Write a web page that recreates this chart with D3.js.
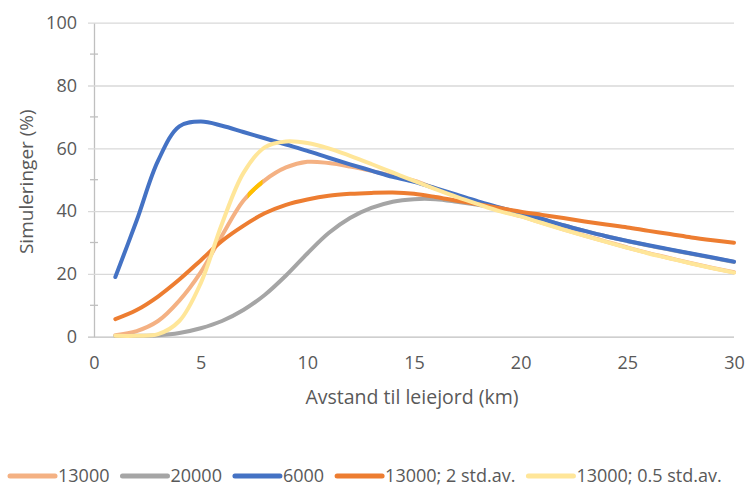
<!DOCTYPE html>
<html>
<head>
<meta charset="utf-8">
<script src="https://cdn.jsdelivr.net/npm/d3@7"></script>
<style>
  body { margin: 0; background: #fff; }
  text { font-family: "Open Sans", sans-serif; fill: #595959; }
</style>
</head>
<body>
<svg id="chart" width="748" height="486"></svg>
<script>
// distance to leased land (km)
const distances = [1, 2, 3, 4, 5, 6, 7, 8, 9, 10, 11, 12, 13, 14, 15,
  16, 17, 18, 19, 20, 21, 22, 23, 24, 25, 26, 27, 28, 29, 30];

// share of simulations (%) per scenario
const sim13000 = [0.5, 1.8, 5, 11.5, 20.5, 32.2, 43.3, 49.8, 53.9, 55.7, 55.3, 54.2, 52.8, 51.2,
  49.7, 47.2, 44.7, 42.4, 40.2, 38.4, 36.3, 34.2, 32.2, 30.3, 28.4, 26.6, 25, 23.4, 21.9, 20.5];
const sim20000 = [0.2, 0.3, 0.5, 1.2, 2.7, 5, 8.5, 13.3, 19.5, 26.5, 33, 37.8, 41, 43, 43.8,
  43.8, 43, 42, 40.8, 39.5, 37.5, 35.5, 33.7, 32, 30.5, 29, 27.7, 26.4, 25.1, 23.8];
const sim6000 = [19, 37, 56, 67, 68.5, 67.2, 65.2, 63.2, 61.2, 59.2, 57, 54.9, 52.9, 50.9, 49.3,
  47.3, 45.2, 43.1, 41.2, 39.3, 37.5, 35.5, 33.7, 32, 30.5, 29.1, 27.8, 26.5, 25.2, 23.9];
const sim13000sd2 = [5.6, 8.5, 12.8, 18.2, 24.3, 30.5, 35.3, 39.3, 42, 43.7, 44.9, 45.5, 45.8,
  45.9, 45.5, 44.5, 43.3, 42.2, 41, 39.8, 38.8, 37.8, 36.7, 35.7, 34.8, 33.7, 32.7, 31.6, 30.7, 29.9];
const sim13000sd05 = [0.3, 0.3, 0.8, 5, 17, 36, 52.1, 60.3, 62.2, 61.7, 60, 57.6, 55, 52.3, 49.6,
  47, 44.5, 42.2, 40, 38.3, 36.2, 34.1, 32.1, 30.2, 28.3, 26.5, 24.9, 23.3, 21.8, 20.4];

const seriesNames = ['13000', '20000', '6000', '13000; 2 std.av.', '13000; 0.5 std.av.'];
const seriesValues = [sim13000, sim20000, sim6000, sim13000sd2, sim13000sd05];
const seriesColors = ['#F4B183', '#A5A5A5', '#4472C4', '#ED7D31', '#FFE699'];

const xTicks = [0, 5, 10, 15, 20, 25, 30];
const yTicks = [0, 20, 40, 60, 80, 100];
const yMinorTicks = [10, 30, 50, 70, 90];
// short stretch of the 13000 line drawn in a stronger yellow in the original
const highlightRange = [7.2, 7.9];

const width = 748, height = 486;
const plot = { left: 94, right: 734, top: 22.7, bottom: 336.7 };

const svg = d3.select('#chart');

const x = d3.scaleLinear().domain([0, 30]).range([plot.left, plot.right]);
const y = d3.scaleLinear().domain([0, 100]).range([plot.bottom, plot.top]);

// y axis with gridlines
const yAxis = svg.append('g')
  .attr('transform', `translate(${plot.left},0)`)
  .call(d3.axisLeft(y).tickValues(yTicks).tickSize(6).tickPadding(11).tickSizeOuter(0));
yAxis.select('.domain').attr('stroke', '#bfbfbf').attr('stroke-width', 1.3);
yAxis.selectAll('.tick line')
  .attr('x1', -6)
  .attr('x2', plot.right - plot.left)
  .attr('stroke', (d) => (d === 0 ? '#bfbfbf' : '#d9d9d9'))
  .attr('stroke-width', 1.3);
yAxis.selectAll('.tick text').style('font-size', '18px');

// minor ticks
yAxis.selectAll('.minor')
  .data(yMinorTicks)
  .join('line')
  .attr('class', 'minor')
  .attr('x1', -4)
  .attr('x2', 4)
  .attr('y1', (d) => y(d))
  .attr('y2', (d) => y(d))
  .attr('stroke', '#bfbfbf')
  .attr('stroke-width', 1.3);

// x axis labels only, the line comes from the y=0 gridline
const xAxis = svg.append('g')
  .attr('transform', `translate(0,${plot.bottom})`)
  .call(d3.axisBottom(x).tickValues(xTicks).tickSize(0).tickPadding(20));
xAxis.select('.domain').remove();
xAxis.selectAll('.tick text').style('font-size', '18px');

// axis titles
svg.append('text')
  .attr('x', (plot.left + plot.right) / 2 - 2)
  .attr('y', 404)
  .attr('text-anchor', 'middle')
  .style('font-size', '19.5px')
  .text('Avstand til leiejord (km)');

svg.append('text')
  .attr('transform', `translate(33,${(plot.top + plot.bottom) / 2 + 2}) rotate(-90)`)
  .attr('text-anchor', 'middle')
  .style('font-size', '19px')
  .text('Simuleringer (%)');

// lines
const line = d3.line()
  .x((d) => x(d.km))
  .y((d) => y(d.v))
  .curve(d3.curveCatmullRom);

const series = seriesNames.map((name, i) => ({
  name,
  color: seriesColors[i],
  values: distances.map((km, j) => ({ km, v: seriesValues[i][j] }))
}));

svg.append('clipPath')
  .attr('id', 'hl')
  .append('rect')
  .attr('x', x(highlightRange[0]))
  .attr('width', x(highlightRange[1]) - x(highlightRange[0]))
  .attr('y', 0)
  .attr('height', height);

const lines = svg.append('g')
  .attr('fill', 'none')
  .attr('stroke-width', 4)
  .attr('stroke-linecap', 'round')
  .attr('stroke-linejoin', 'round');

series.forEach((s, i) => {
  lines.append('path').attr('d', line(s.values)).attr('stroke', s.color);
  if (i === 0) {
    lines.append('path')
      .attr('d', line(s.values))
      .attr('stroke', '#FFC000')
      .attr('stroke-linecap', 'butt')
      .attr('clip-path', 'url(#hl)');
  }
});

// legend, flowing left to right
const legend = svg.append('g').attr('transform', 'translate(10,476)');
let cursor = 0;
series.forEach((s) => {
  const item = legend.append('g').attr('transform', `translate(${cursor},0)`);
  item.append('line')
    .attr('x1', 0).attr('x2', 45)
    .attr('stroke', s.color)
    .attr('stroke-width', 5)
    .attr('stroke-linecap', 'round');
  const t = item.append('text')
    .attr('x', 48)
    .attr('dy', '0.36em')
    .style('font-size', '18px')
    .text(s.name);
  cursor += 48 + t.node().getComputedTextLength() + 13;
});
</script>
</body>
</html>
